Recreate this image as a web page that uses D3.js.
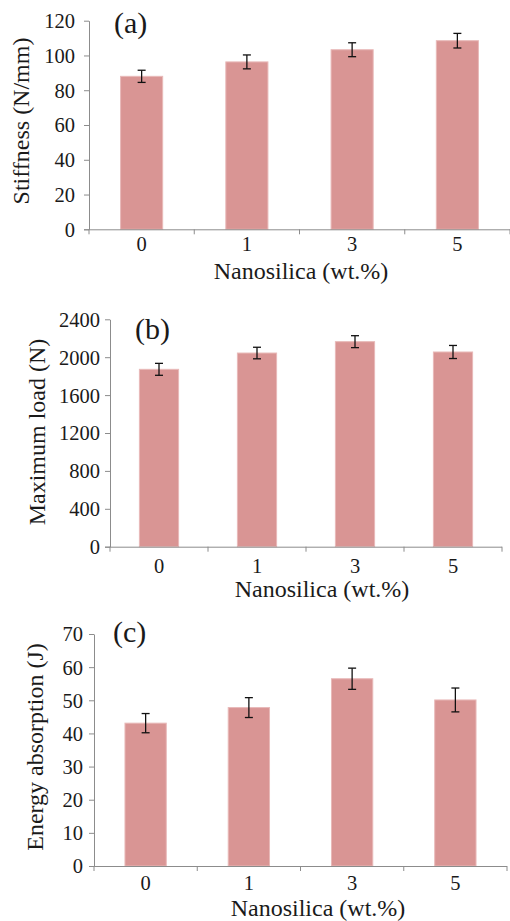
<!DOCTYPE html>
<html>
<head>
<meta charset="utf-8">
<script src="https://cdn.jsdelivr.net/npm/d3@7"></script>
<style>
  body { margin: 0; background: #fff; }
</style>
</head>
<body>
<svg width="510" height="921"></svg>
<script>
// **** Data ****
var categories = ['0', '1', '3', '5'];

var stiffness = [88.0, 96.3, 103.3, 108.5];
var stiffnessErr = [3.5, 4.0, 4.0, 4.2];
var stiffnessTicks = [0, 20, 40, 60, 80, 100, 120];

var maxLoad = [1872, 2044, 2164, 2055];
var maxLoadErr = [63, 61, 63, 69];
var maxLoadTicks = [0, 400, 800, 1200, 1600, 2000, 2400];

var energy = [43.1, 47.8, 56.5, 50.1];
var energyErr = [2.9, 3.0, 3.2, 3.6];
var energyTicks = [0, 10, 20, 30, 40, 50, 60, 70];

var FONT = "'Liberation Serif', 'Times New Roman', Times, serif";
var TEXT = '#1a1a1a';
var AXIS = '#8c8c8c';

var svg = d3.select('svg');

// **** One panel ****
function drawPanel(opt) {
    var x = d3.scaleBand().domain(categories)
        .range([opt.left, opt.right]).paddingInner(0.6).paddingOuter(0.3);
    var bounds = d3.scaleBand().domain(categories).range([opt.left, opt.right]);
    var y = d3.scaleLinear().domain([0, d3.max(opt.ticks)]).range([opt.bottom, opt.top]);

    var g = svg.append('g');

    // bars
    g.selectAll('rect.bar')
        .data(opt.values)
        .enter()
        .append('rect')
        .attr('class', 'bar')
        .attr('x', function(d, i) { return x(categories[i]); })
        .attr('width', x.bandwidth())
        .attr('y', function(d) { return y(d); })
        .attr('height', function(d) { return y(0) - y(d); })
        .attr('fill', '#d99594')
        .attr('stroke', '#e8b9b8')
        .attr('stroke-width', 1);

    // error bars
    var eb = g.selectAll('g.err')
        .data(opt.values)
        .enter()
        .append('g')
        .attr('class', 'err')
        .attr('transform', function(d, i) {
            return 'translate(' + (x(categories[i]) + x.bandwidth() / 2) + ',0)';
        });
    eb.append('line')
        .attr('y1', function(d, i) { return y(d - opt.errors[i]); })
        .attr('y2', function(d, i) { return y(d + opt.errors[i]); })
        .attr('stroke', '#111').attr('stroke-width', 1.3);
    [1, -1].forEach(function(sign) {
        eb.append('line')
            .attr('x1', -4).attr('x2', 4)
            .attr('y1', function(d, i) { return y(d + sign * opt.errors[i]); })
            .attr('y2', function(d, i) { return y(d + sign * opt.errors[i]); })
            .attr('stroke', '#111').attr('stroke-width', 1.3);
    });

    // y axis
    var yAxis = g.append('g')
        .attr('transform', 'translate(' + opt.left + ',0)')
        .call(d3.axisLeft(y).tickValues(opt.ticks).tickFormat(d3.format('d'))
            .tickSize(5).tickSizeOuter(0).tickPadding(opt.pad));
    yAxis.attr('font-family', FONT);
    yAxis.select('.domain').attr('stroke', AXIS);
    yAxis.selectAll('.tick line').attr('stroke', AXIS);
    yAxis.selectAll('.tick text')
        .attr('dy', '0.34em')
        .style('font-family', FONT)
        .style('font-size', '20.5px')
        .attr('fill', TEXT);

    // x axis: line, boundary ticks, centred labels
    g.append('line')
        .attr('x1', opt.left - 5).attr('x2', opt.right)
        .attr('y1', opt.bottom + 0.5).attr('y2', opt.bottom + 0.5)
        .attr('stroke', AXIS);
    var edges = categories.map(function(c) { return bounds(c); }).concat([opt.right]);
    g.selectAll('line.xt')
        .data(edges)
        .enter()
        .append('line')
        .attr('class', 'xt')
        .attr('x1', function(d) { return d; }).attr('x2', function(d) { return d; })
        .attr('y1', opt.bottom).attr('y2', opt.bottom + 5)
        .attr('stroke', AXIS);
    g.selectAll('text.xl')
        .data(categories)
        .enter()
        .append('text')
        .attr('class', 'xl')
        .attr('x', function(d) { return bounds(d) + bounds.bandwidth() / 2; })
        .attr('y', opt.bottom + opt.xlab)
        .style('text-anchor', 'middle')
        .style('font-family', FONT)
        .style('font-size', '20.5px')
        .attr('fill', TEXT)
        .text(function(d) { return d; });

    // axis titles
    g.append('text')
        .attr('x', opt.titleX).attr('y', opt.bottom + 50)
        .style('text-anchor', 'middle')
        .style('font-family', FONT)
        .style('font-size', '24px')
        .attr('fill', TEXT)
        .text('Nanosilica (wt.%)');
    g.append('text')
        .attr('transform', 'translate(' + opt.labelX + ',' + opt.labelY + ') rotate(-90)')
        .style('text-anchor', 'middle')
        .style('font-family', FONT)
        .style('font-size', '24px')
        .attr('fill', TEXT)
        .text(opt.label);

    // panel letter
    g.append('text')
        .attr('x', opt.letterX).attr('y', opt.letterY)
        .style('font-family', FONT)
        .style('font-size', '30px')
        .attr('fill', TEXT)
        .text(opt.letter);
}

drawPanel({
    values: stiffness, errors: stiffnessErr, ticks: stiffnessTicks,
    left: 89, right: 510, top: 20.7, bottom: 229.3, pad: 9, xlab: 22,
    label: 'Stiffness (N/mm)', labelX: 29, labelY: 121,
    titleX: 301, letter: '(a)', letterX: 114, letterY: 33
});

drawPanel({
    values: maxLoad, errors: maxLoadErr, ticks: maxLoadTicks,
    left: 110, right: 502, top: 319.3, bottom: 546.7, pad: 5, xlab: 26,
    label: 'Maximum load (N)', labelX: 45, labelY: 432,
    titleX: 322, letter: '(b)', letterX: 135, letterY: 339
});

drawPanel({
    values: energy, errors: energyErr, ticks: energyTicks,
    left: 94, right: 507, top: 634, bottom: 866, pad: 6, xlab: 24,
    label: 'Energy absorption (J)', labelX: 43, labelY: 747,
    titleX: 318, letter: '(c)', letterX: 113, letterY: 642
});
</script>
</body>
</html>
